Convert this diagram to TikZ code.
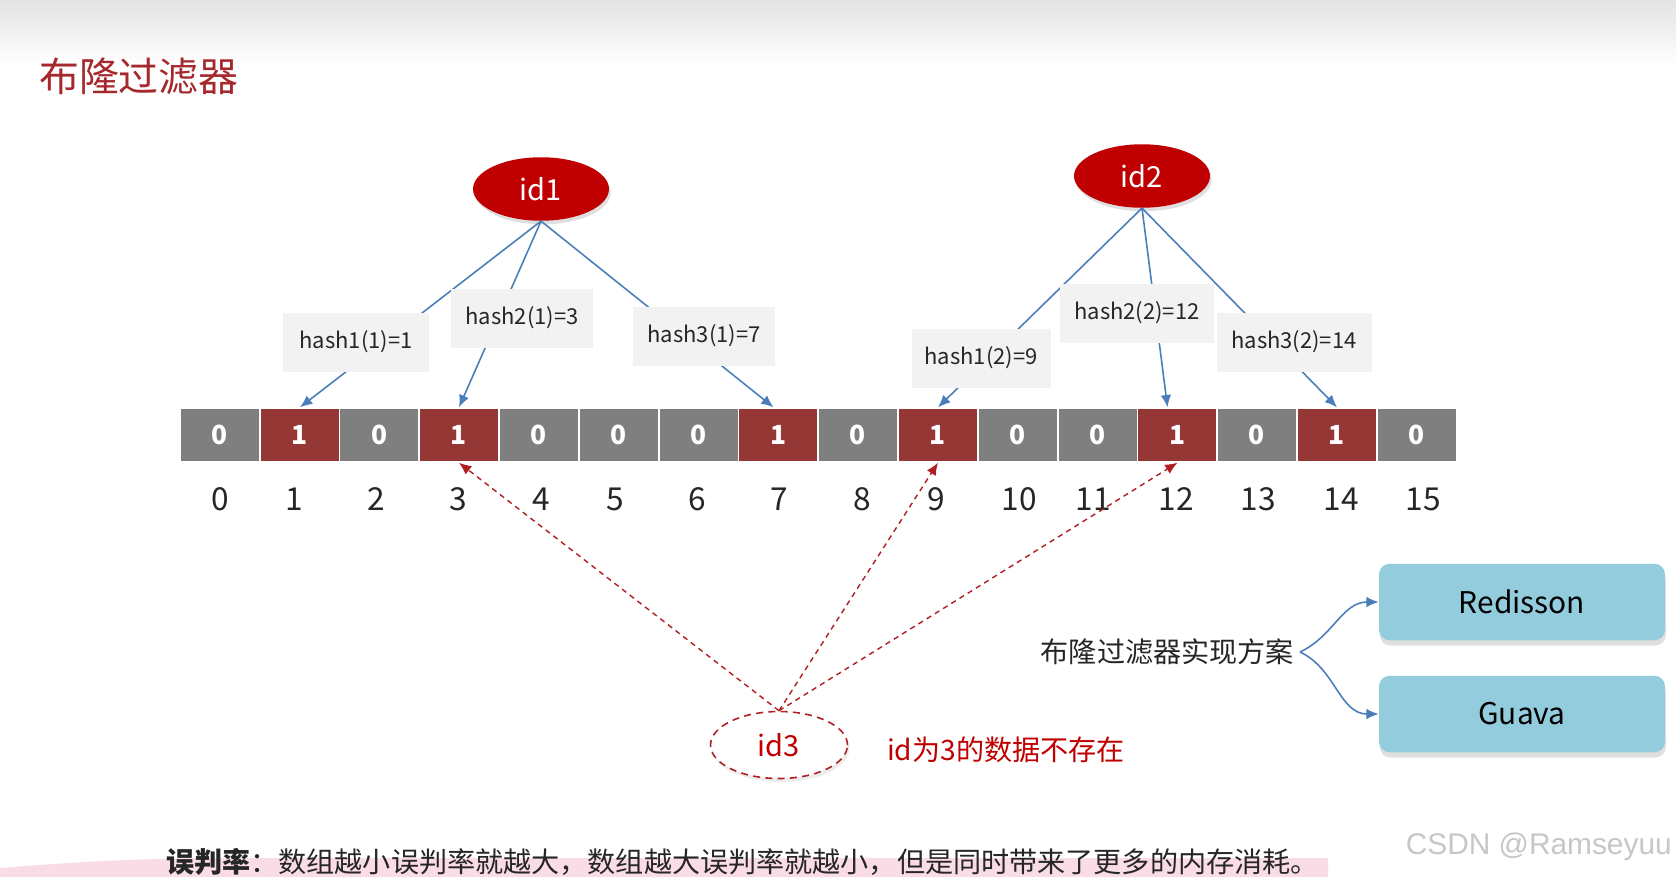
\documentclass[tikz,border=0pt]{standalone}
\usepackage{fontspec}
\setmainfont{Noto Sans CJK SC}
\newfontfamily\markfont{Liberation Sans}
\usetikzlibrary{shapes.geometric,shadows,arrows.meta}

\definecolor{cellgray}{HTML}{7F7F7F}
\definecolor{cellred}{HTML}{953735}
\definecolor{idred}{HTML}{C00000}
\definecolor{linkblue}{HTML}{4A7EBB}
\definecolor{boxgray}{HTML}{F2F2F2}
\definecolor{libblue}{HTML}{93CDDD}
\definecolor{titlered}{HTML}{A5282D}
\definecolor{probered}{HTML}{B01E23}
\definecolor{notepink}{HTML}{FADCE6}

\begin{document}
\begin{tikzpicture}[x=0.02cm, y=-0.02cm,
  cell/.style={rectangle, draw=white, line width=0.8pt, minimum width=1.596cm, minimum height=1.08cm, inner sep=0pt, text=white, font=\fontsize{15}{18}\selectfont\bfseries},
  cellzero/.style={cell, fill=cellgray},
  cellone/.style={cell, fill=cellred},
  idx/.style={font=\fontsize{18}{22}\selectfont, text=black!85},
  idnode/.style={ellipse, fill=idred, text=white, minimum width=2.72cm, minimum height=1.27cm, font=\fontsize{16.5}{20}\selectfont, drop shadow={opacity=0.25, shadow xshift=1pt, shadow yshift=-2pt}},
  hashbox/.style={rectangle, fill=boxgray, minimum height=1.18cm, font=\fontsize{12.5}{15}\selectfont, text=black!85},
  hashline/.style={linkblue, line width=0.9pt, -{Latex[length=7pt,width=6pt]}},
  probe/.style={probered, line width=0.8pt, dash pattern=on 3pt off 2.5pt, -{Latex[length=7pt,width=6pt]}},
  libbox/.style={rectangle, rounded corners=6pt, fill=libblue, minimum width=5.72cm, minimum height=1.53cm, font=\fontsize{17}{20}\selectfont, drop shadow={opacity=0.25, shadow xshift=0.5pt, shadow yshift=-3pt}}]

  % Page
  \useasboundingbox (0,0) rectangle (1676,877);
  \fill[white] (0,0) rectangle (1676,877);
  \shade[top color=black!11, bottom color=white] (0,0) rectangle (1676,65);
  \node[anchor=west, text=titlered, font=\fontsize{22.7}{26}\selectfont] (title) at (33,76) {布隆过滤器};

  % Bit array
  \node[cellzero] (c0) at (220,435) {0};
  \node[cellone] (c1) at (300,435) {1};
  \node[cellzero] (c2) at (379.5,435) {0};
  \node[cellone] (c3) at (459,435) {1};
  \node[cellzero] (c4) at (539,435) {0};
  \node[cellzero] (c5) at (619,435) {0};
  \node[cellzero] (c6) at (699,435) {0};
  \node[cellone] (c7) at (778.5,435) {1};
  \node[cellzero] (c8) at (858,435) {0};
  \node[cellone] (c9) at (938,435) {1};
  \node[cellzero] (c10) at (1018,435) {0};
  \node[cellzero] (c11) at (1098,435) {0};
  \node[cellone] (c12) at (1177.5,435) {1};
  \node[cellzero] (c13) at (1257,435) {0};
  \node[cellone] (c14) at (1337,435) {1};
  \node[cellzero] (c15) at (1417,435) {0};

  % Index labels
  \node[idx] (n0) at (220,499) {0};
  \node[idx] (n1) at (294,499) {1};
  \node[idx] (n2) at (376,499) {2};
  \node[idx] (n3) at (458,499) {3};
  \node[idx] (n4) at (541,499) {4};
  \node[idx] (n5) at (615,499) {5};
  \node[idx] (n6) at (697,499) {6};
  \node[idx] (n7) at (779,499) {7};
  \node[idx] (n8) at (862,499) {8};
  \node[idx] (n9) at (936,499) {9};
  \node[idx] (n10) at (1019,499) {10};
  \node[idx] (n11) at (1093,499) {11};
  \node[idx] (n12) at (1176,499) {12};
  \node[idx] (n13) at (1258,499) {13};
  \node[idx] (n14) at (1341,499) {14};
  \node[idx] (n15) at (1423,499) {15};

  % Keys
  \node[idnode] (id1) at (541,189) {id1};
  \node[idnode] (id2) at (1142,176) {id2};
  \node[ellipse, draw=probered, line width=0.9pt, dash pattern=on 4pt off 3pt, fill=white, text=idred, minimum width=2.74cm, minimum height=1.34cm, font=\fontsize{16.5}{20}\selectfont, drop shadow={opacity=0.15, shadow xshift=1pt, shadow yshift=-2pt}] (id3) at (779,745) {id3};

  % Hash paths (boxes drawn over them)
  \draw[hashline] (id1.south) -- (c1.north);
  \draw[hashline] (id1.south) -- (c3.north);
  \draw[hashline] (id1.south) -- ([xshift=-0.1cm]c7.north);
  \draw[hashline] (id2.south) -- (c9.north);
  \draw[hashline] (id2.south) -- ([xshift=-0.2cm]c12.north);
  \draw[hashline] (id2.south) -- (c14.north);

  \node[hashbox, minimum width=2.92cm] (h11) at (356,342) {hash1(1)=1};
  \node[hashbox, minimum width=2.86cm] (h21) at (522,318) {hash2(1)=3};
  \node[hashbox, minimum width=2.86cm] (h31) at (704,336) {hash3(1)=7};
  \node[hashbox, minimum width=2.78cm] (h12) at (981,358) {hash1(2)=9};
  \node[hashbox, minimum width=3.08cm] (h22) at (1137,313) {hash2(2)=12};
  \node[hashbox, minimum width=3.10cm] (h32) at (1294,342) {hash3(2)=14};

  % False positive check
  \draw[probe] (id3.north) -- (c3.south);
  \draw[probe] (id3.north) -- (c9.south);
  \draw[probe] (id3.north) -- (c12.south);
  \node[anchor=west, text=idred, font=\fontsize{16}{19}\selectfont] (absent) at (881,750) {id为3的数据不存在};

  % Implementations
  \node[libbox] (redis) at (1522,602) {Redisson};
  \node[libbox] (guava) at (1522,714) {Guava};
  \node[anchor=east, text=black!85, font=\fontsize{16}{19}\selectfont] (plan) at (1300,652) {布隆过滤器实现方案};
  \draw[hashline] (plan.east) to[out=25, in=180] (redis.west);
  \draw[hashline] (plan.east) to[out=-25, in=180] (guava.west);

  % Note
  \fill[notepink] (0,868) .. controls (100,860) and (150,858) .. (250,858) -- (1328,858) -- (1328,877) -- (0,877) -- cycle;
  \node[anchor=west, text=black!85, font=\fontsize{16}{19}\selectfont] (note) at (160,862) {\textbf{误判率}：数组越小误判率就越大，数组越大误判率就越小，但是同时带来了更多的内存消耗。};
  \node[anchor=east, text=black!22, font=\markfont\fontsize{17}{20}\selectfont] (mark) at (1678,847) {CSDN @Ramseyuu};
\end{tikzpicture}
\end{document}
